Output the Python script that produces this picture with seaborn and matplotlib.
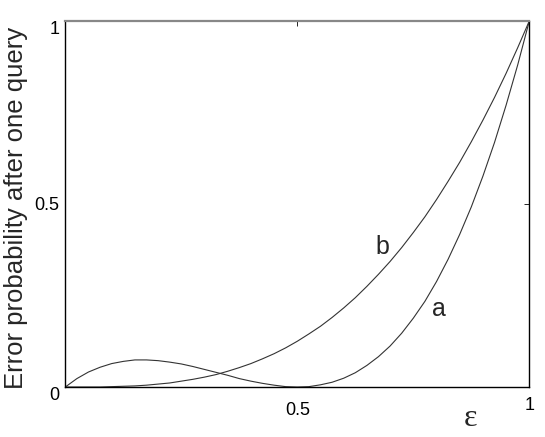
import matplotlib
matplotlib.use("Agg")
import matplotlib.pyplot as plt
import seaborn as sns

# values
eps = [0.000, 0.025, 0.050, 0.075, 0.100, 0.125, 0.150, 0.175, 0.200, 0.225,
       0.250, 0.275, 0.300, 0.325, 0.350, 0.375, 0.400, 0.425, 0.450, 0.475,
       0.500, 0.525, 0.550, 0.575, 0.600, 0.625, 0.650, 0.675, 0.700, 0.725,
       0.750, 0.775, 0.800, 0.825, 0.850, 0.875, 0.900, 0.925, 0.950, 0.975,
       1.000]
err_a = [0.000, 0.023, 0.041, 0.054, 0.064, 0.070, 0.074, 0.074, 0.072, 0.068,
         0.063, 0.056, 0.048, 0.040, 0.032, 0.023, 0.016, 0.010, 0.005, 0.001,
         0.000, 0.001, 0.006, 0.013, 0.024, 0.039, 0.059, 0.083, 0.112, 0.147,
         0.188, 0.234, 0.288, 0.349, 0.417, 0.492, 0.576, 0.668, 0.770, 0.880,
         1.000]
err_b = [0.000, 0.000, 0.000, 0.000, 0.001, 0.002, 0.003, 0.005, 0.008, 0.011,
         0.016, 0.021, 0.027, 0.034, 0.043, 0.053, 0.064, 0.077, 0.091, 0.107,
         0.125, 0.145, 0.166, 0.190, 0.216, 0.244, 0.275, 0.308, 0.343, 0.381,
         0.422, 0.465, 0.512, 0.562, 0.614, 0.670, 0.729, 0.791, 0.857, 0.927,
         1.000]
ticks = [0, 0.5, 1]
tick_labels = ["0", "0.5", "1"]

sns.set_style("white")
plt.rcParams["font.family"] = ["Liberation Sans", "DejaVu Sans"]

fig = plt.figure(figsize=(5.45, 4.37), dpi=100)
ax = fig.add_axes([0.1198, 0.1144, 0.8514, 0.8376])

sns.lineplot(x=eps, y=err_a, ax=ax, color="#333333", linewidth=0.8)
sns.lineplot(x=eps, y=err_b, ax=ax, color="#333333", linewidth=0.8)

ax.set_xlim(0, 1)
ax.set_ylim(0, 1)

ax.set_xticks(ticks)
ax.set_xticklabels(["", "0.5", "1"], fontsize=13)
ax.set_yticks(ticks)
ax.set_yticklabels(tick_labels, fontsize=13)
ax.tick_params(direction="in", length=3.5, width=0.6, top=True, right=True,
               colors="black")
ax.tick_params(axis="y", pad=4)
ax.tick_params(axis="x", pad=11)
ax.xaxis.get_major_ticks()[2].set_pad(7)

ylab = ax.get_yticklabels()
ylab[0].set_va("top")
ylab[2].set_va("top")

for name, sp in ax.spines.items():
    sp.set_visible(True)
    sp.set_color("black")
    sp.set_linewidth(1.0)
ax.spines["top"].set_color("#888888")
ax.spines["top"].set_linewidth(1.6)

ax.set_ylabel("Error probability after one query", fontsize=18.5)
ax.yaxis.set_label_coords(-0.08, 0.49)

ax.text(0.874, -0.085, "ε", transform=ax.transAxes, fontsize=23,
        family="Liberation Serif", ha="center", va="center")

ax.text(0.6825, 0.3825, "b", fontsize=18, ha="center", va="center")
ax.text(0.805, 0.212, "a", fontsize=18, ha="center", va="center")

fig.savefig("out.png", dpi=100)
